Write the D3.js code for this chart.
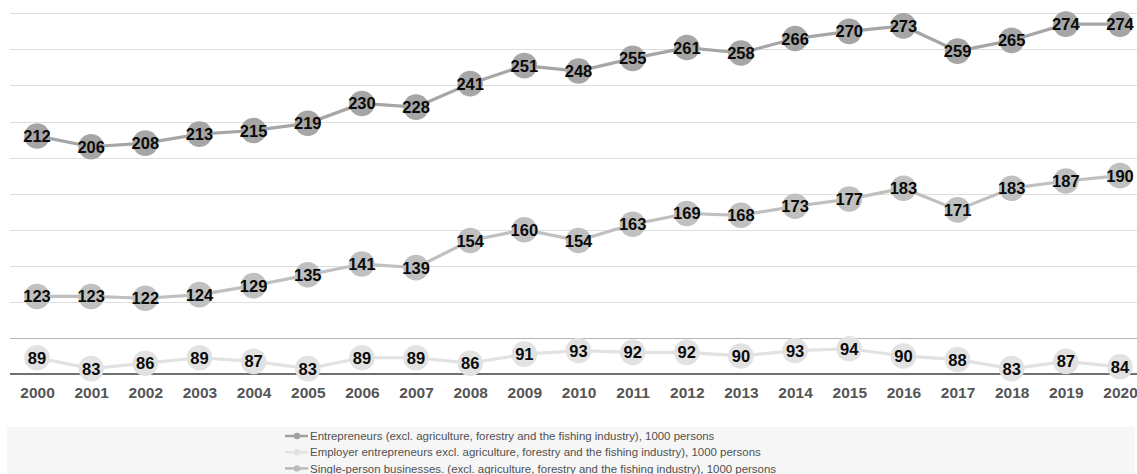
<!DOCTYPE html>
<html><head><meta charset="utf-8">
<script src="https://cdn.jsdelivr.net/npm/d3@7"></script>
<style>
html,body{margin:0;padding:0;background:#fff;}
svg{display:block;font-family:"Liberation Sans",Arial,sans-serif;}
</style></head>
<body>
<svg id="chart" width="1137" height="474"></svg>
<script>
const years = ["2000","2001","2002","2003","2004","2005","2006","2007","2008","2009","2010","2011","2012","2013","2014","2015","2016","2017","2018","2019","2020"];
const entrepreneurs = [212,206,208,213,215,219,230,228,241,251,248,255,261,258,266,270,273,259,265,274,274];
const employers = [89,83,86,89,87,83,89,89,86,91,93,92,92,90,93,94,90,88,83,87,84];
const singlePerson = [123,123,122,124,129,135,141,139,154,160,154,163,169,168,173,177,183,171,183,187,190];
const seriesNames = [
  "Entrepreneurs (excl. agriculture, forestry and the fishing industry), 1000 persons",
  "Employer entrepreneurs excl. agriculture, forestry and the fishing industry), 1000 persons",
  "Single-person businesses. (excl. agriculture, forestry and the fishing industry), 1000 persons"
];
const gridTicks = [100,120,140,160,180,200,220,240,260,280];

const series = [
  {name: seriesNames[0], values: entrepreneurs, color: "#a6a6a6", legendColor: "#a0a0a0"},
  {name: seriesNames[1], values: employers, color: "#e2e2e2", legendColor: "#e2e2e2"},
  {name: seriesNames[2], values: singlePerson, color: "#c0c0c0", legendColor: "#bababa"}
];

const svg = d3.select("#chart");
const x = d3.scalePoint().domain(years).range([37, 1120]);
const y = d3.scaleLinear().domain([80, 280]).range([374, 13.3]);

// gridlines
svg.append("g").selectAll("line").data(gridTicks).join("line")
  .attr("x1", 10).attr("x2", 1137)
  .attr("y1", d => Math.round(y(d)) + 0.5).attr("y2", d => Math.round(y(d)) + 0.5)
  .attr("stroke", d => d === 100 ? "#b4b4b4" : "#dedede").attr("stroke-width", 1.2);

// x axis
const xAxis = svg.append("g").attr("transform", `translate(0,${Math.round(y(80))})`)
  .call(d3.axisBottom(x).tickSize(0).tickPadding(13));
xAxis.select(".domain").remove();
xAxis.append("line").attr("x1", 10).attr("x2", 1137).attr("y1", 0).attr("y2", 0)
  .attr("stroke", "#404040").attr("stroke-width", 1.5);
xAxis.selectAll("text").attr("font-family", "Liberation Sans, Arial, sans-serif")
  .attr("font-size", 15.5).attr("font-weight", "bold").attr("fill", "#555");

const line = d3.line().x((d, i) => x(years[i])).y(d => y(d));
const plot = svg.append("g");
// draw in order: bottom series first
[series[1], series[2], series[0]].forEach(s => {
  plot.append("path").datum(s.values).attr("d", line)
    .attr("fill", "none").attr("stroke", s.color).attr("stroke-width", 3.2);
  plot.append("g").selectAll("circle").data(s.values).join("circle")
    .attr("cx", (d, i) => x(years[i])).attr("cy", d => y(d)).attr("r", 12.8)
    .attr("fill", s.color);
  plot.append("g").selectAll("text").data(s.values).join("text")
    .attr("x", (d, i) => x(years[i])).attr("y", d => y(d) + 6)
    .attr("text-anchor", "middle").attr("font-size", 16.5).attr("font-weight", "bold")
    .attr("fill", "#0a0a0a").text(d => d);
});

// legend
svg.append("rect").attr("x", 7).attr("y", 427).attr("width", 1128).attr("height", 60).attr("fill", "#f6f6f6");
const lg = svg.append("g").selectAll("g").data(series).join("g")
  .attr("transform", (d, i) => `translate(285,${436 + i * 16.2})`);
lg.append("line").attr("x1", 0).attr("x2", 23).attr("y1", 0).attr("y2", 0)
  .attr("stroke", d => d.legendColor).attr("stroke-width", 2.5);
lg.append("circle").attr("cx", 12).attr("cy", 0).attr("r", 3.2).attr("fill", d => d.legendColor);
lg.append("text").attr("x", 25).attr("y", 4.2).attr("font-size", 11.45).attr("fill", "#505050")
  .text(d => d.name);
</script>
</body></html>
